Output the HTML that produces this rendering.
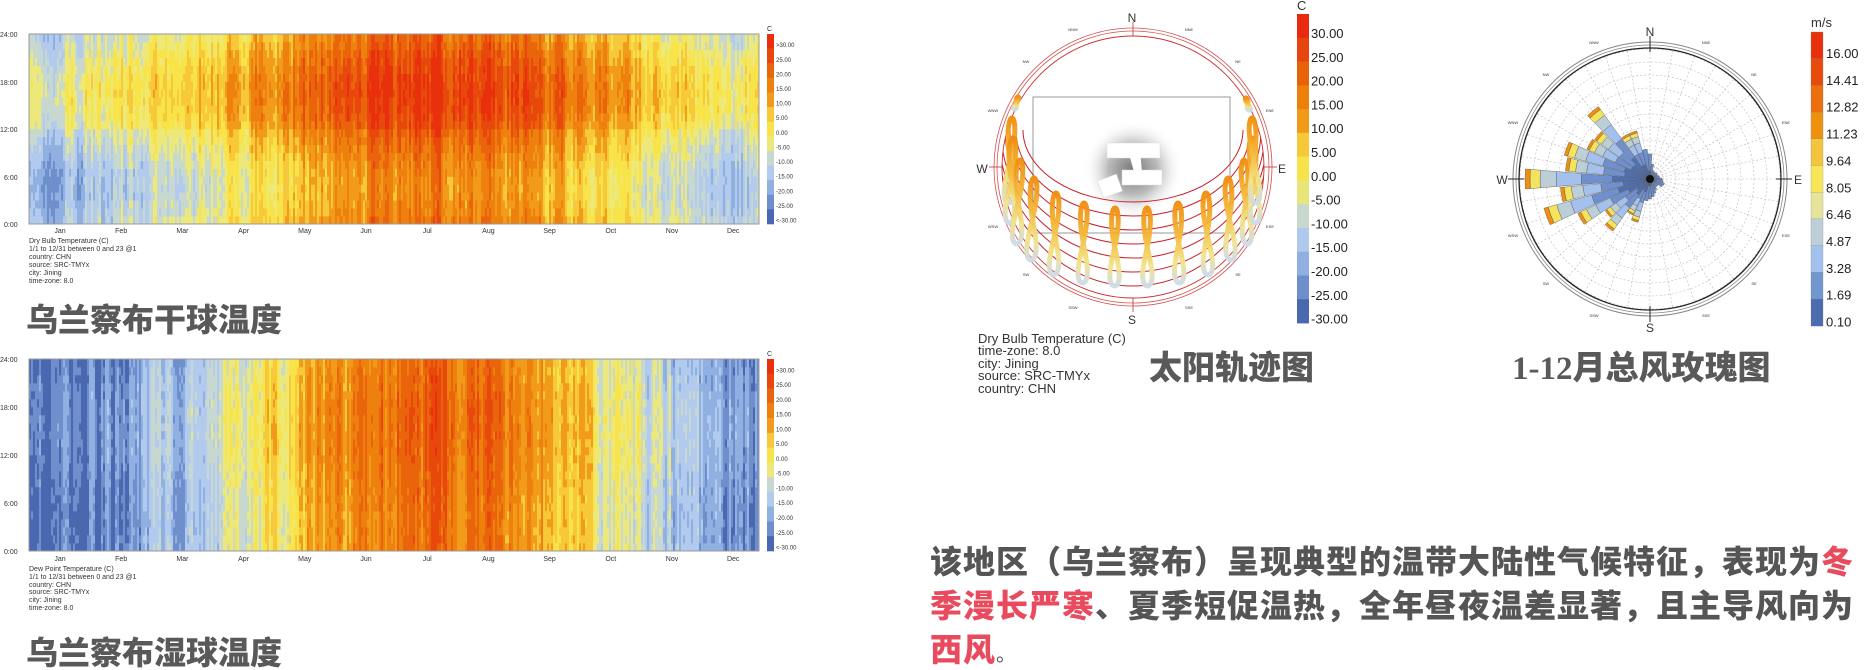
<!DOCTYPE html>
<html><head><meta charset="utf-8"><style>
html,body{margin:0;padding:0;background:#fff;}
svg{display:block;}
.t{font-family:"Liberation Sans",sans-serif;fill:#333;}
.cj{font-family:"Liberation Sans","Noto Sans CJK SC",sans-serif;font-weight:900;fill:#595959;}
.para{position:absolute;left:930px;top:540px;width:940px;font-family:"Liberation Sans","Noto Sans CJK SC",sans-serif;font-weight:900;font-size:32px;line-height:44px;color:#555;letter-spacing:1px;}
.red{color:#e94b5e;}
</style></head><body>
<div style="position:relative;width:1864px;height:670px;overflow:hidden;">
<svg id="s" width="1864" height="670" xmlns="http://www.w3.org/2000/svg">
<defs>
<linearGradient id="lg" x1="0" y1="0" x2="0" y2="1">
<stop offset="0" stop-color="#f08c0c"/><stop offset="0.4" stop-color="#f4b93a"/><stop offset="0.75" stop-color="#f2e48a"/><stop offset="1" stop-color="#cddbea"/>
</linearGradient>
<radialGradient id="sh"><stop offset="0" stop-color="#777"/><stop offset="0.5" stop-color="#bbb"/><stop offset="1" stop-color="#fff" stop-opacity="0"/></radialGradient>
<clipPath id="cc"><circle cx="1133" cy="167" r="131"/></clipPath>
</defs>
<g id="hm1"></g><g id="hm2"></g>
<g class="t" font-size="7">
<text x="0" y="37">24:00</text><text x="0" y="85">18:00</text><text x="0" y="132">12:00</text><text x="4" y="180">6:00</text><text x="4" y="227">0:00</text>
<text x="0" y="362">24:00</text><text x="0" y="410">18:00</text><text x="0" y="458">12:00</text><text x="4" y="506">6:00</text><text x="4" y="554">0:00</text>
<text x="767" y="31">C</text><text x="767" y="356">C</text>
</g>
<g class="t" font-size="7" id="months"></g>
<g class="t" font-size="7">
<text x="29" y="243">Dry Bulb Temperature (C)</text>
<text x="29" y="251">1/1 to 12/31 between 0 and 23 @1</text>
<text x="29" y="259">country: CHN</text>
<text x="29" y="267">source: SRC-TMYx</text>
<text x="29" y="275">city: Jining</text>
<text x="29" y="283">time-zone: 8.0</text>
<text x="29" y="571">Dew Point Temperature (C)</text>
<text x="29" y="579">1/1 to 12/31 between 0 and 23 @1</text>
<text x="29" y="587">country: CHN</text>
<text x="29" y="594">source: SRC-TMYx</text>
<text x="29" y="602">city: Jining</text>
<text x="29" y="610">time-zone: 8.0</text>
</g>
<text class="cj" x="26" y="331" font-size="32">乌兰察布干球温度</text>
<text class="cj" x="26" y="664" font-size="32">乌兰察布湿球温度</text>

<g id="sun">
<circle cx="1133" cy="167" r="139" fill="none" stroke="#d45050" stroke-width="0.8"/>
<circle cx="1133" cy="167" r="136" fill="none" stroke="#d45050" stroke-width="0.8"/>
<circle cx="1133" cy="167" r="131" fill="none" stroke="#c83030" stroke-width="0.9"/>
<rect x="1033" y="97" width="197" height="136" fill="#fff" stroke="#999" stroke-width="1"/>
<circle cx="1133" cy="170" r="50" fill="url(#sh)"/>
<rect x="1107" y="143" width="53" height="15" fill="#fff" stroke="#ddd" stroke-width="0.5"/>
<rect x="1122" y="170" width="40" height="15" fill="#fff" stroke="#ddd" stroke-width="0.5"/>
<rect x="1100" y="177" width="20" height="18" fill="#fff" stroke="#ddd" stroke-width="0.5" transform="rotate(-20 1110 186)"/>
<polygon points="1128,150 1140,150 1142,172 1134,172" fill="#fff"/>
<g id="arcs" clip-path="url(#cc)"></g>
<g id="loops"></g>
<g stroke="#c83030" stroke-width="0.8">
<line x1="1133" y1="22" x2="1133" y2="36"/><line x1="1133" y1="298" x2="1133" y2="312"/>
<line x1="989" y1="167" x2="1002" y2="167"/><line x1="1264" y1="167" x2="1277" y2="167"/>
</g>
<g class="t" font-size="12" text-anchor="middle">
<text x="1132" y="22">N</text><text x="1132" y="324">S</text><text x="982" y="173">W</text><text x="1282" y="173">E</text>
</g>
<g class="t" font-size="4" text-anchor="middle" fill="#555">
<text x="1073" y="31">NNW</text><text x="1189" y="31">NNE</text><text x="1026" y="63">NW</text><text x="1238" y="63">NE</text>
<text x="993" y="112">WNW</text><text x="1270" y="112">ENE</text><text x="993" y="228">WSW</text><text x="1270" y="228">ESE</text>
<text x="1026" y="276">SW</text><text x="1238" y="276">SE</text><text x="1073" y="309">SSW</text><text x="1189" y="309">SSE</text>
</g>
</g>
<g id="sunleg"></g>
<g class="t" font-size="13">
<text x="1297" y="10">C</text>
<text x="978" y="343">Dry Bulb Temperature (C)</text>
<text x="978" y="355">time-zone: 8.0</text>
<text x="978" y="368">city: Jining</text>
<text x="978" y="380">source: SRC-TMYx</text>
<text x="978" y="393">country: CHN</text>
</g>
<text class="cj" x="1149" y="379" font-size="33">太阳轨迹图</text>

<g id="grid"></g>
<circle cx="1650" cy="179" r="137" fill="none" stroke="#888" stroke-width="1"/>
<circle cx="1650" cy="179" r="134" fill="none" stroke="#888" stroke-width="0.8"/>
<circle cx="1650" cy="179" r="131" fill="none" stroke="#222" stroke-width="1.3"/>
<g id="bars"></g>
<circle cx="1650" cy="179" r="4" fill="#111"/>
<g stroke="#222" stroke-width="1">
<line x1="1650" y1="36" x2="1650" y2="52"/><line x1="1650" y1="306" x2="1650" y2="322"/>
<line x1="1508" y1="179" x2="1524" y2="179"/><line x1="1776" y1="179" x2="1792" y2="179"/>
</g>
<g class="t" font-size="12" text-anchor="middle">
<text x="1650" y="36">N</text><text x="1650" y="332">S</text><text x="1502" y="184">W</text><text x="1798" y="184">E</text>
</g>
<g class="t" font-size="4" text-anchor="middle" fill="#555">
<text x="1594" y="44">NNW</text><text x="1706" y="44">NNE</text><text x="1546" y="76">NW</text><text x="1754" y="76">NE</text>
<text x="1513" y="124">WNW</text><text x="1786" y="124">ENE</text><text x="1513" y="237">WSW</text><text x="1786" y="237">ESE</text>
<text x="1546" y="285">SW</text><text x="1754" y="285">SE</text><text x="1594" y="317">SSW</text><text x="1706" y="317">SSE</text>
</g>
<g id="windleg"></g>
<text class="t" x="1811" y="27" font-size="13">m/s</text>
<text class="cj" x="1512" y="379" font-size="33"><tspan font-family="Liberation Serif,serif">1-12</tspan>月总风玫瑰图</text>
</svg>
<div class="para">该地区（乌兰察布）呈现典型的温带大陆性气候特征，表现为<span class="red">冬季漫长严寒</span>、夏季短促温热，全年昼夜温差显著，且主导风向为<span class="red">西风</span><span style="font-weight:400;font-size:20px">。</span></div>
</div>
<script>
var NS="http://www.w3.org/2000/svg";
function el(p,t,a){var e=document.createElementNS(NS,t);for(var k in a)e.setAttribute(k,a[k]);p.appendChild(e);return e;}
var seed=12345;function rnd(){seed=(seed*1103515245+12345)%2147483648;return seed/2147483648;}
var pal=["#e8300c","#e8480c","#ea640c","#ee800e","#f29a1a","#f6c83a","#f8e448","#ece87a","#c6d8d0","#b2caee","#8fb0e0","#6e8ecc","#4a68b0"];
function heat(g,y0,y1,dew){
 var x0=29,x1=759,W=(x1-x0)/365,H=(y1-y0)/24;
 var wn=0;
 for(var d=0;d<365;d++){
  var s=Math.cos(2*Math.PI*(d-200)/365);
  wn=wn*0.5+(rnd()-0.5)*2.6;
  for(var h=0;h<24;h++){
   var di=dew?0.3*Math.sin(2*Math.PI*(h-9)/24):1.2*Math.sin(2*Math.PI*(h-10)/24)+(h>=12?0.3:-0.1);
   var L=dew?(6.8-4.6*s+wn*0.9+(rnd()-0.5)*0.8-di):(5.0-3.2*s+wn*0.8+(rnd()-0.5)*0.9-di);
   var i=Math.round(L);if(i<0)i=0;if(i>12)i=12;
   el(g,"rect",{x:(x0+d*W).toFixed(2),y:(y1-(h+1)*H).toFixed(2),width:(W+0.4).toFixed(2),height:(H+0.3).toFixed(2),fill:pal[i]});
  }
 }
 el(g,"rect",{x:x0,y:y0,width:x1-x0,height:y1-y0,fill:"none",stroke:"#999","stroke-width":1});
 var lh=(y1-y0)/13;
 var labs=[">30.00","25.00","20.00","15.00","10.00","5.00","0.00","-5.00","-10.00","-15.00","-20.00","-25.00","<-30.00"];
 for(var i=0;i<13;i++){
  el(g,"rect",{x:767,y:(y0+i*lh).toFixed(2),width:7,height:(lh+0.3).toFixed(2),fill:pal[i]});
  var t=el(g,"text",{x:776,y:(y0+i*lh+lh*0.9).toFixed(1),"font-size":6,"font-family":"Liberation Sans,sans-serif",fill:"#333"});t.textContent=labs[i];
 }
}
heat(document.getElementById("hm1"),34,224,false);
heat(document.getElementById("hm2"),359,551,true);
var mg=document.getElementById("months"),mn=["Jan","Feb","Mar","Apr","May","Jun","Jul","Aug","Sep","Oct","Nov","Dec"];
for(var m=0;m<12;m++){[233,561].forEach(function(y){var t=el(mg,"text",{x:60+m*61.2,y:y,"text-anchor":"middle"});t.textContent=mn[m];});}
var ag=document.getElementById("arcs");
[72,86,100,114,128,142,156].forEach(function(ry,i){var rx=[110,117,123,128,132,135,137][i];
 el(ag,"path",{d:"M"+(1133-rx)+",130 A"+rx+" "+ry+" 0 0 0 "+(1133+rx)+",130",fill:"none",stroke:"#c8202a","stroke-width":1});});
var lg=document.getElementById("loops");
var tops=[[1018,97,12],[1012,118,85],[1013,138,85],[1020,160,84],[1034,178,82],[1056,193,82],[1084,203,80],[1115,208,78],[1147,208,78],[1178,203,80],[1206,193,82],[1228,178,82],[1244,160,84],[1252,138,85],[1252,118,85],[1246,98,12]];
tops.forEach(function(p){var x0=p[0],y0=p[1],L=p[2],w=L>20?5:1.5,d="";
 for(var k=0;k<=60;k++){var t=k/60*2*Math.PI;var x=x0+w*Math.sin(2*t)*(0.6+0.4*(1-Math.cos(t))/2)+((x0-1133)*0.03)*(1-Math.cos(t))/2;var y=y0+L/2*(1-Math.cos(t));d+=(k?"L":"M")+x.toFixed(1)+","+y.toFixed(1);}
 el(lg,"path",{d:d,fill:"none",stroke:"url(#lg)","stroke-width":5,"stroke-linecap":"round",opacity:0.95});});
var sl=document.getElementById("sunleg");
var sp=["#e82a10","#e84410","#e8620a","#ec800a","#f09a18","#f6c838","#f6e34a","#e8e67a","#c8d8cc","#b0c8ec","#8fb0e0","#6e8ecc","#4a68b0"];
var sv=["30.00","25.00","20.00","15.00","10.00","5.00","0.00","-5.00","-10.00","-15.00","-20.00","-25.00","-30.00"];
for(var i=0;i<13;i++){el(sl,"rect",{x:1297,y:(14+i*23.77).toFixed(1),width:12,height:24.2,fill:sp[i]});
 var t=el(sl,"text",{x:1311,y:(38+i*23.8).toFixed(1),"font-size":13,"font-family":"Liberation Sans,sans-serif",fill:"#222"});t.textContent=sv[i];}
var gg=document.getElementById("grid"),cx=1650,cy=179;
for(var r=13;r<=130;r+=13)el(gg,"circle",{cx:cx,cy:cy,r:r,fill:"none",stroke:"#bbb","stroke-width":0.6,"stroke-dasharray":"2 2"});
for(var a=0;a<360;a+=10){var rr=a*Math.PI/180;el(gg,"line",{x1:cx+8*Math.sin(rr),y1:cy-8*Math.cos(rr),x2:cx+130*Math.sin(rr),y2:cy-130*Math.cos(rr),stroke:"#bbb","stroke-width":0.6,"stroke-dasharray":"2 2"});}
var bg=document.getElementById("bars");
var lens=[25,15,9,8,8,9,8,9,10,12,13,15,14,10,10,12,15,18,20,22,45,40,64,55,80,110,90,125,85,89,70,68,89,50,50,30];
var segs=[[0,0.3,"#4f6fb5"],[0.3,0.55,"#6f90cf"],[0.55,0.75,"#a4c1ee"],[0.75,0.88,"#bccfd6"],[0.88,0.96,"#f3e35e"],[0.96,1,"#ef8f12"]];
function P(a,r){return (cx+r*Math.sin(a)).toFixed(1)+","+(cy-r*Math.cos(a)).toFixed(1);}
lens.forEach(function(L,i){var a=i*10*Math.PI/180,h=4.6*Math.PI/180;
 segs.forEach(function(s){if(L<40&&s[0]>=0.55)return;var r0=L*s[0],r1=L*s[1];if(L<40&&s[1]==0.55)r1=L;
  el(bg,"path",{d:"M"+P(a-h,r0)+" L"+P(a-h,r1)+" A"+r1+" "+r1+" 0 0 1 "+P(a+h,r1)+" L"+P(a+h,r0)+" A"+r0+" "+r0+" 0 0 0 "+P(a-h,r0)+"Z",fill:s[2],stroke:"#555","stroke-width":0.4});});});
var wl=document.getElementById("windleg");
var wp=["#e8300c","#e84a0c","#ec6e0c","#ef900e","#f4c43c","#f7e658","#e6e49a","#bccfd8","#a3c0ee","#7097d0","#4c6cb0"];
var wv=["16.00","14.41","12.82","11.23","9.64","8.05","6.46","4.87","3.28","1.69","0.10"];
for(var i=0;i<11;i++){el(wl,"rect",{x:1811,y:(32+i*26.7).toFixed(1),width:12,height:27.1,fill:wp[i],stroke:"#888","stroke-width":0.3});
 var t=el(wl,"text",{x:1826,y:(58+i*26.85).toFixed(1),"font-size":13,"font-family":"Liberation Sans,sans-serif",fill:"#222"});t.textContent=wv[i];}
</script>
</body></html>
